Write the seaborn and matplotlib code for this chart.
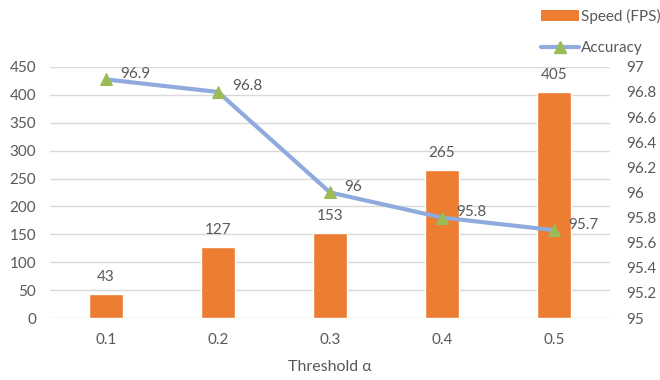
import numpy as np
import pandas as pd
import matplotlib
matplotlib.use("Agg")
import matplotlib.pyplot as plt
from matplotlib.lines import Line2D
from matplotlib.patches import Patch
import seaborn as sns

thresholds = ["0.1", "0.2", "0.3", "0.4", "0.5"]
speed_fps = [43, 127, 153, 265, 405]
accuracy = [96.9, 96.8, 96.0, 95.8, 95.7]
accuracy_labels = ["96.9", "96.8", "96", "95.8", "95.7"]
left_ticks = [0, 50, 100, 150, 200, 250, 300, 350, 400, 450]
right_ticks = [95, 95.2, 95.4, 95.6, 95.8, 96, 96.2, 96.4, 96.6, 96.8, 97]
right_tick_labels = ["95", "95.2", "95.4", "95.6", "95.8", "96", "96.2", "96.4", "96.6", "96.8", "97"]

sns.set_theme(style="white")
plt.rcParams["font.family"] = ["Lato", "DejaVu Sans"]

TEXT = "#595959"
ORANGE = "#ED7D31"
BLUE = "#8FAADC"
GREEN = "#9BBB59"
GRID = "#D9D9D9"
FS = 11

df = pd.DataFrame({"threshold": thresholds, "speed": speed_fps, "acc": accuracy})

fig = plt.figure(figsize=(6.6, 3.8), dpi=100)
ax = fig.add_axes([0.0758, 0.163, 0.8485, 0.661])

sns.barplot(data=df, x="threshold", y="speed", color=ORANGE, saturation=1,
            width=0.31, ax=ax, zorder=2)
ax.set_ylim(0, 450)
ax.set_yticks(left_ticks)
ax.set_yticklabels([str(t) for t in left_ticks])
ax.yaxis.grid(True, color=GRID, linewidth=1, zorder=0)
ax.set_axisbelow(True)
for s in ax.spines.values():
    s.set_visible(False)
ax.tick_params(axis="both", length=0, labelsize=FS, colors=TEXT)
ax.tick_params(axis="y", pad=10)
ax.tick_params(axis="x", pad=11)
ax.set_xlabel("Threshold α", fontsize=11.5, color=TEXT, labelpad=9)
ax.set_ylabel("")

for p, v in zip(ax.patches, speed_fps):
    ax.annotate(str(v), (p.get_x() + p.get_width() / 2, p.get_height()),
                xytext=(0, 7), textcoords="offset points", ha="center",
                va="bottom", fontsize=FS, color=TEXT)

ax2 = ax.twinx()
xpos = np.arange(len(thresholds))
sns.lineplot(x=xpos, y=accuracy, ax=ax2, color=BLUE, linewidth=3,
             marker="^", markersize=9, markerfacecolor=GREEN,
             markeredgecolor=GREEN, zorder=3)
ax2.set_ylim(95, 97)
ax2.set_yticks(right_ticks)
ax2.set_yticklabels(right_tick_labels)
for s in ax2.spines.values():
    s.set_visible(False)
ax2.tick_params(axis="y", length=0, labelsize=FS, colors=TEXT, pad=12)
ax2.grid(False)
ax.set_xlim(-0.5, len(thresholds) - 0.5)

for x, y, lab in zip(xpos, accuracy, accuracy_labels):
    ax2.annotate(lab, (x, y), xytext=(10, 4), textcoords="offset points",
                 ha="left", va="center", fontsize=FS, color=TEXT)

handles = [Patch(facecolor=ORANGE, edgecolor="none"),
           Line2D([0], [0], color=BLUE, linewidth=3, marker="^",
                  markersize=9, markerfacecolor=GREEN, markeredgecolor=GREEN)]
fig.legend(handles, ["Speed (FPS)", "Accuracy"], loc="upper left",
           bbox_to_anchor=(0.815, 0.985), frameon=False, fontsize=FS,
           labelcolor=TEXT, handlelength=2.5, handleheight=0.75,
           labelspacing=1.15, handletextpad=0.15, borderpad=0.2,
           borderaxespad=0)

fig.savefig("out.png", dpi=100)
